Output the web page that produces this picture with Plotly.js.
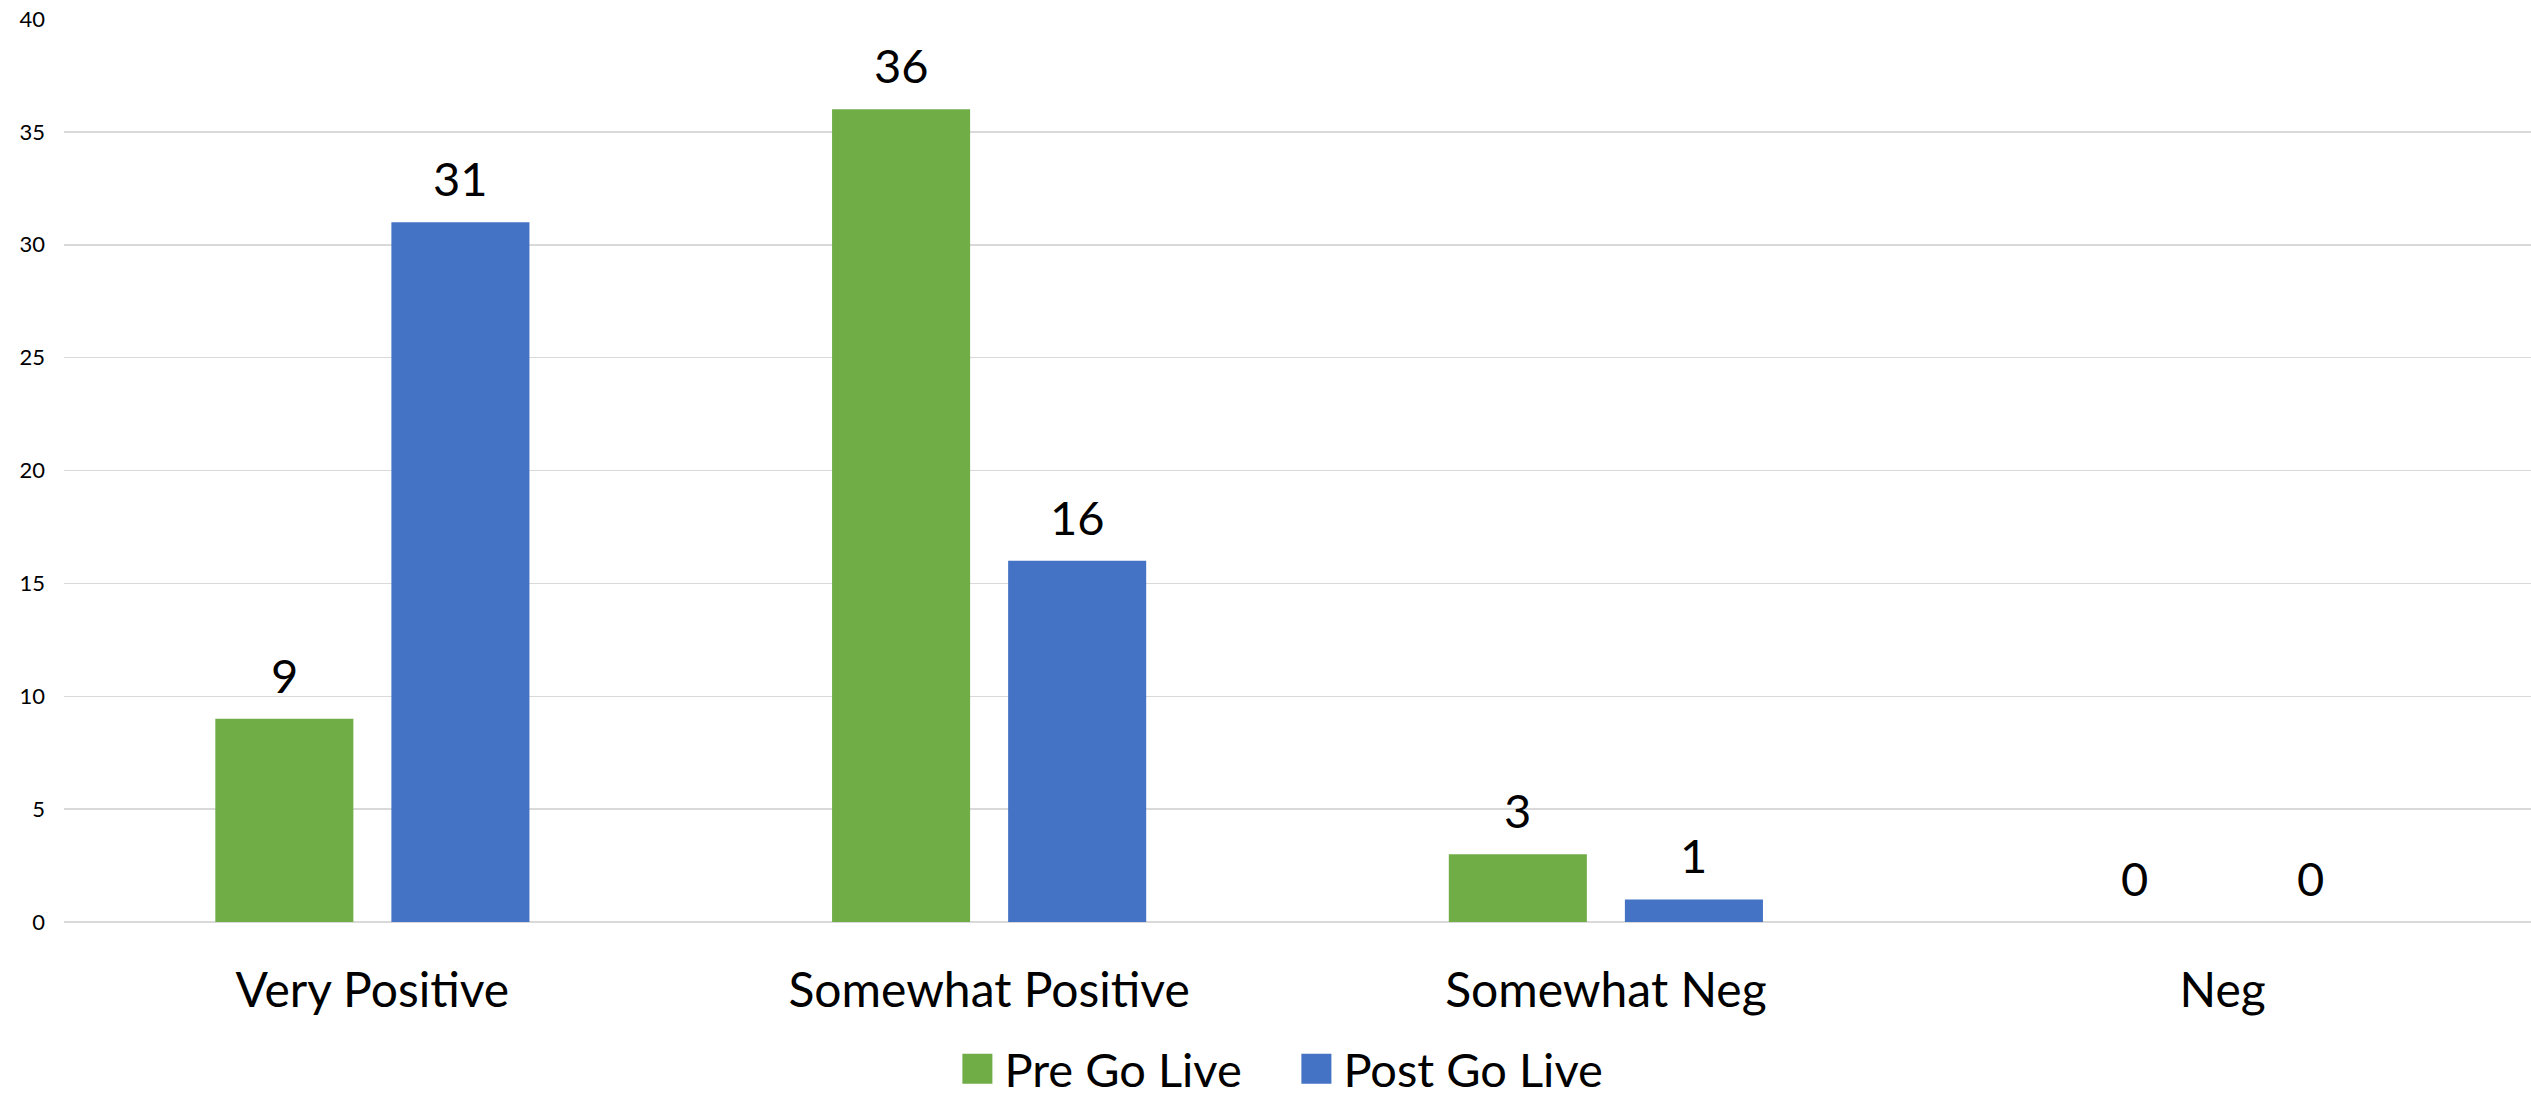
<!DOCTYPE html>
<html>
<head>
<meta charset="utf-8">
<script src="https://cdn.plot.ly/plotly-3.0.1.min.js"></script>
<style>html,body{margin:0;padding:0;background:#fff;}#chart{width:2531px;height:1100px;}</style>
</head>
<body>
<div id="chart"></div>
<script>
// ---- data ----
const categories = ["Very Positive", "Somewhat Positive", "Somewhat Neg", "Neg"];
const preGoLive = [9, 36, 3, 0];
const postGoLive = [31, 16, 1, 0];
const seriesNames = ["Pre Go Live", "Post Go Live"];
const yTicks = [0, 5, 10, 15, 20, 25, 30, 35, 40];

// ---- style ----
const FONT = "Lato, 'Open Sans', sans-serif";
const W = 2531, H = 1100;
const M = {l: 64, r: 0, t: 19, b: 178, autoexpand: false};
const BARGAP = 0.429, BARGROUPGAP = 0.216;
const colors = ["#70AD47", "#4472C4"];

const series = [preGoLive, postGoLive];
const traces = series.map((vals, i) => ({
  type: "bar",
  name: seriesNames[i],
  x: categories,
  y: vals,
  marker: {color: colors[i], line: {width: 0}},
  hoverinfo: "x+y+name"
}));

// data labels above bars, positioned via axes
const plotW = W - M.l - M.r;
const slotPx = plotW / categories.length * (1 - BARGAP) / 2;
const annotations = [];
series.forEach((vals, i) => {
  vals.forEach((v, j) => {
    annotations.push({
      x: categories[j], y: v, xref: "x", yref: "y",
      text: String(v), showarrow: false,
      xanchor: "center", yanchor: "bottom",
      xshift: (i === 0 ? -1 : 1) * slotPx / 2,
      yshift: 14,
      font: {family: FONT, size: 47, color: "#000"}
    });
  });
});

const layout = {
  width: W, height: H,
  margin: M,
  paper_bgcolor: "#fff", plot_bgcolor: "#fff",
  barmode: "group", bargap: BARGAP, bargroupgap: BARGROUPGAP,
  font: {family: FONT, color: "#000"},
  showlegend: true,
  legend: {
    orientation: "h", xref: "container", yref: "paper",
    x: 0.3755, xanchor: "left", y: -0.163, yanchor: "middle",
    font: {family: FONT, size: 47, color: "#000"},
    itemwidth: 44, entrywidth: 280, entrywidthmode: "pixels",
    bgcolor: "rgba(0,0,0,0)"
  },
  xaxis: {
    type: "category",
    showgrid: false, showline: false, zeroline: false,
    ticks: "",
    tickfont: {family: FONT, size: 48, color: "#000"},
    ticklabelstandoff: 36
  },
  yaxis: {
    range: [0, 40], tickvals: yTicks, ticktext: yTicks.map(String),
    showgrid: true, gridcolor: "#D9D9D9", gridwidth: 1.5,
    zeroline: true, zerolinecolor: "#D9D9D9", zerolinewidth: 1.5,
    showline: false, ticks: "",
    tickfont: {family: FONT, size: 22, color: "#000"},
    ticklabelstandoff: 18
  },
  annotations: annotations
};

Plotly.newPlot("chart", traces, layout, {displayModeBar: false, staticPlot: true}).then(gd => {
  gd.querySelectorAll(".legend .legendpoints path").forEach(p => {
    p.setAttribute("transform", (p.getAttribute("transform") || "") + " scale(2.5)");
  });
});
</script>
</body>
</html>
